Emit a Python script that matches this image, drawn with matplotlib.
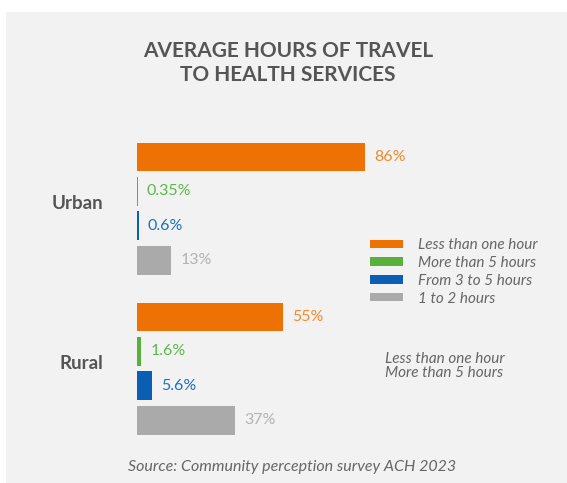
import numpy as np
import matplotlib.pyplot as plt
from matplotlib.patches import Rectangle, Patch

# survey shares by area and travel time
areas = ['Urban', 'Rural']
categories = ['Less than one hour', 'More than 5 hours', 'From 3 to 5 hours', '1 to 2 hours']
urban = [86, 0.35, 0.6, 13]
rural = [55, 1.6, 5.6, 37]
value_labels = [['86%', '0.35%', '0.6%', '13%'], ['55%', '1.6%', '5.6%', '37%']]

bar_colors = ['#ee7203', '#57b13a', '#0a5fb4', '#aaaaaa']
text_colors = ['#f08a30', '#5cb84a', '#1e6fc0', '#b3b3b3']

plt.rcParams['font.family'] = ['Lato', 'DejaVu Sans']

W, H = 567, 483
fig = plt.figure(figsize=(W / 100, H / 100), dpi=100)
fig.patch.set_facecolor('white')
fig.patches.append(Rectangle((6 / W, 0), 1 - 6 / W, 1 - 12 / H, transform=fig.transFigure,
                             facecolor='#f2f2f2', edgecolor='none', zorder=-5))

ax = fig.add_axes([137 / W, 33 / H, 265 / W, 320 / H])
ax.set_facecolor('none')
ax.set_zorder(2)

group_gap = 4.65
for g, vals in enumerate([urban, rural]):
    for i, v in enumerate(vals):
        y = g * group_gap + i
        ax.barh(y, v, height=0.84, color=bar_colors[i], linewidth=0)
        ax.annotate(value_labels[g][i], (v, y), xytext=(6.5, 0), textcoords='offset points',
                    va='center', ha='left', fontsize=11.5, color=text_colors[i])

ax.set_xlim(0, 100)
ax.set_ylim(-0.785 + 9.3, -0.785)
ax.set_xticks([])
ax.set_yticks([g * group_gap + 1.5 - 0.2 for g in range(len(areas))])
ax.set_yticklabels(areas, fontsize=13.5, fontweight='bold', color='#555555')
ax.tick_params(axis='y', length=0, pad=24)
for s in ax.spines.values():
    s.set_visible(False)

fig.text(288 / W, 1 - 63 / H, 'AVERAGE HOURS OF TRAVEL\nTO HEALTH SERVICES', ha='center', va='center',
         fontsize=15, fontweight='bold', color='#555555', linespacing=1.3)

handles = [Patch(facecolor=c, edgecolor='none') for c in bar_colors]
fig.legend(handles, categories, loc='upper left', bbox_to_anchor=(358 / W, 1 - 226 / H),
           frameon=False, prop={'style': 'italic', 'size': 11},
           handlelength=2.15, handleheight=0.45, handletextpad=1.0, labelspacing=0.25,
           labelcolor='#666666', borderpad=0.3)

fig.text(385 / W, 1 - 366 / H, 'Less than one hour\nMore than 5 hours', ha='left', va='center',
         fontsize=11, style='italic', color='#666666', linespacing=1.05)

fig.text(292 / W, 1 - 467 / H, 'Source: Community perception survey ACH 2023', ha='center', va='center',
         fontsize=11.5, style='italic', color='#666666')

fig.savefig('out.png', dpi=100)
